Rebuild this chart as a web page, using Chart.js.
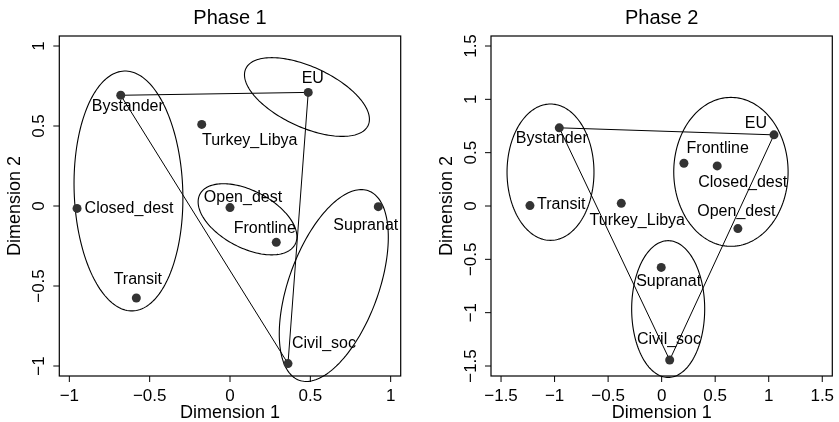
<!DOCTYPE html>
<html>
<head>
<meta charset="utf-8">
<script src="https://cdn.jsdelivr.net/npm/chart.js@4/dist/chart.umd.min.js"></script>
<style>
  html, body { margin: 0; padding: 0; background: #fff; }
  #wrap { position: relative; width: 839px; height: 422px; }
  canvas { position: absolute; top: 0; }
</style>
</head>
<body>
<div id="wrap">
  <canvas id="c1" width="420" height="422" style="left:0px"></canvas>
  <canvas id="c2" width="419" height="422" style="left:420px"></canvas>
</div>
<script>
// ---- Data ----
const actors = ["Bystander", "EU", "Turkey_Libya", "Closed_dest", "Open_dest", "Frontline", "Supranat", "Transit", "Civil_soc"];

const phase1X = [-0.680, 0.487, -0.176, -0.952, 0.000, 0.288, 0.923, -0.583, 0.361];
const phase1Y = [0.692, 0.710, 0.510, -0.015, -0.010, -0.227, -0.004, -0.575, -0.985];

const phase2X = [-0.956, 1.049, -0.377, 0.519, 0.712, 0.208, -0.004, -1.230, 0.075];
const phase2Y = [0.733, 0.667, 0.025, 0.376, -0.212, 0.401, -0.576, 0.004, -1.444];

const triangleActors = ["Bystander", "EU", "Civil_soc", "Bystander"];

const phase1Ticks = [-1, -0.5, 0, 0.5, 1];
const phase1TickLabels = ["\u22121", "\u22120.5", "0", "0.5", "1"];
const phase2Ticks = [-1.5, -1, -0.5, 0, 0.5, 1, 1.5];
const phase2TickLabels = ["\u22121.5", "\u22121", "\u22120.5", "0", "0.5", "1", "1.5"];

// cluster ellipses (centre, semi-axes, major-axis angle in degrees)
const phase1EllCx = [-0.632, 0.479, 0.109, 0.646];
const phase1EllCy = [0.094, 0.681, -0.083, -0.497];
const phase1EllA = [0.75, 0.42, 0.335, 0.63];
const phase1EllB = [0.338, 0.188, 0.178, 0.279];
const phase1EllAng = [92, -25, -28, 70];

const phase2EllCx = [-1.038, 0.647, 0.061];
const phase2EllCy = [0.317, 0.320, -0.966];
const phase2EllA = [0.639, 0.698, 0.641];
const phase2EllB = [0.406, 0.534, 0.341];
const phase2EllAng = [90, 90, 90];

// ---- Styling: label placement (pixel offsets of text centre / baseline from the point) ----
const phase1LabelOffsets = {
  "Bystander": [7, 16], "EU": [4.5, -9], "Turkey_Libya": [48, 21], "Closed_dest": [52, 4.5],
  "Open_dest": [13, -6], "Frontline": [-11.5, -9.5], "Supranat": [-12.5, 23], "Transit": [1.5, -14.5], "Civil_soc": [36, -15.5]
};
const phase2LabelOffsets = {
  "Bystander": [-7.5, 15.5], "EU": [-18, -6.5], "Turkey_Libya": [16, 21.3], "Closed_dest": [25.5, 21],
  "Open_dest": [-1.5, -12.5], "Frontline": [33.8, -10.3], "Supranat": [7.4, 19], "Transit": [31.3, 3.7], "Civil_soc": [-0.7, -16]
};

const FONT = '"Liberation Sans", Arial, Helvetica, sans-serif';

function makePanel(canvasId, title, xs, ys, ticks, tickLabels, ell, labelOffsets, yAxisWidth, padRight) {
  const pts = actors.map((a, i) => ({ x: xs[i], y: ys[i] }));
  const tri = triangleActors.map(a => { const i = actors.indexOf(a); return { x: xs[i], y: ys[i] }; });
  const lim = Math.max(...ticks.map(Math.abs)) * 1.0625;

  const decor = {
    id: 'decor_' + canvasId,
    beforeDatasetsDraw(chart) {
      const ctx = chart.ctx, xs_ = chart.scales.x, ys_ = chart.scales.y;
      ctx.save();
      ctx.strokeStyle = '#000';
      ctx.lineWidth = 1.1;
      for (let k = 0; k < ell.cx.length; k++) {
        const th = ell.ang[k] * Math.PI / 180;
        ctx.beginPath();
        const N = 180;
        for (let j = 0; j <= N; j++) {
          const t = j / N * 2 * Math.PI;
          const dx = ell.a[k] * Math.cos(t) * Math.cos(th) - ell.b[k] * Math.sin(t) * Math.sin(th);
          const dy = ell.a[k] * Math.cos(t) * Math.sin(th) + ell.b[k] * Math.sin(t) * Math.cos(th);
          const px = xs_.getPixelForValue(ell.cx[k] + dx);
          const py = ys_.getPixelForValue(ell.cy[k] + dy);
          if (j === 0) ctx.moveTo(px, py); else ctx.lineTo(px, py);
        }
        ctx.closePath();
        ctx.stroke();
      }
      ctx.restore();
    },
    afterDraw(chart) {
      const ctx = chart.ctx, ca = chart.chartArea, xs_ = chart.scales.x, ys_ = chart.scales.y;
      ctx.save();
      // box
      ctx.strokeStyle = '#000';
      ctx.lineWidth = 1.2;
      ctx.strokeRect(ca.left, ca.top, ca.right - ca.left, ca.bottom - ca.top);
      // ticks
      ctx.lineWidth = 1;
      ctx.fillStyle = '#000';
      ctx.font = '17px ' + FONT;
      ticks.forEach((v, i) => {
        const px = xs_.getPixelForValue(v);
        ctx.beginPath(); ctx.moveTo(px, ca.bottom); ctx.lineTo(px, ca.bottom + 6); ctx.stroke();
        ctx.textAlign = 'center'; ctx.textBaseline = 'middle';
        ctx.fillText(tickLabels[i], px, ca.bottom + 20);
        const py = ys_.getPixelForValue(v);
        ctx.beginPath(); ctx.moveTo(ca.left, py); ctx.lineTo(ca.left - 6, py); ctx.stroke();
        ctx.save();
        ctx.translate(ca.left - 20, py);
        ctx.rotate(-Math.PI / 2);
        ctx.fillText(tickLabels[i], 0, 0);
        ctx.restore();
      });
      // axis titles
      const cx = (ca.left + ca.right) / 2, cy = (ca.top + ca.bottom) / 2;
      ctx.font = '18px ' + FONT;
      ctx.textAlign = 'center'; ctx.textBaseline = 'middle';
      ctx.fillText('Dimension 1', cx, 413);
      ctx.save();
      ctx.translate(ca.left - 44, cy);
      ctx.rotate(-Math.PI / 2);
      ctx.fillText('Dimension 2', 0, 0);
      ctx.restore();
      // title
      ctx.font = '20px ' + FONT;
      ctx.fillText(title, cx, 18.5);
      // point labels
      ctx.font = '16px ' + FONT;
      ctx.textBaseline = 'alphabetic';
      actors.forEach((a, i) => {
        const px = xs_.getPixelForValue(xs[i]);
        const py = ys_.getPixelForValue(ys[i]);
        const off = labelOffsets[a];
        ctx.fillText(a, px + off[0], py + off[1]);
      });
      ctx.restore();
    }
  };

  return new Chart(document.getElementById(canvasId), {
    type: 'scatter',
    data: {
      datasets: [
        { data: pts, pointRadius: 4.5, pointHoverRadius: 4.5, backgroundColor: '#333', borderWidth: 0, showLine: false },
        { data: tri, showLine: true, borderColor: '#000', borderWidth: 1, pointRadius: 0, fill: false, tension: 0 }
      ]
    },
    options: {
      responsive: false,
      animation: false,
      events: [],
      layout: { padding: { left: 0, right: padRight, top: 36, bottom: 0 } },
      plugins: { legend: { display: false }, title: { display: false }, tooltip: { enabled: false } },
      scales: {
        x: {
          type: 'linear', min: -lim, max: lim,
          grid: { display: false }, border: { display: false },
          ticks: { display: false },
          afterFit(s) { s.height = 46; }
        },
        y: {
          type: 'linear', min: -lim, max: lim,
          grid: { display: false }, border: { display: false },
          ticks: { display: false },
          afterFit(s) { s.width = yAxisWidth; }
        }
      }
    },
    plugins: [decor]
  });
}

makePanel('c1', 'Phase 1', phase1X, phase1Y, phase1Ticks, phase1TickLabels,
  { cx: phase1EllCx, cy: phase1EllCy, a: phase1EllA, b: phase1EllB, ang: phase1EllAng },
  phase1LabelOffsets, 59.3, 19.3);

makePanel('c2', 'Phase 2', phase2X, phase2Y, phase2Ticks, phase2TickLabels,
  { cx: phase2EllCx, cy: phase2EllCy, a: phase2EllA, b: phase2EllB, ang: phase2EllAng },
  phase2LabelOffsets, 71, 6.7);
</script>
</body>
</html>
